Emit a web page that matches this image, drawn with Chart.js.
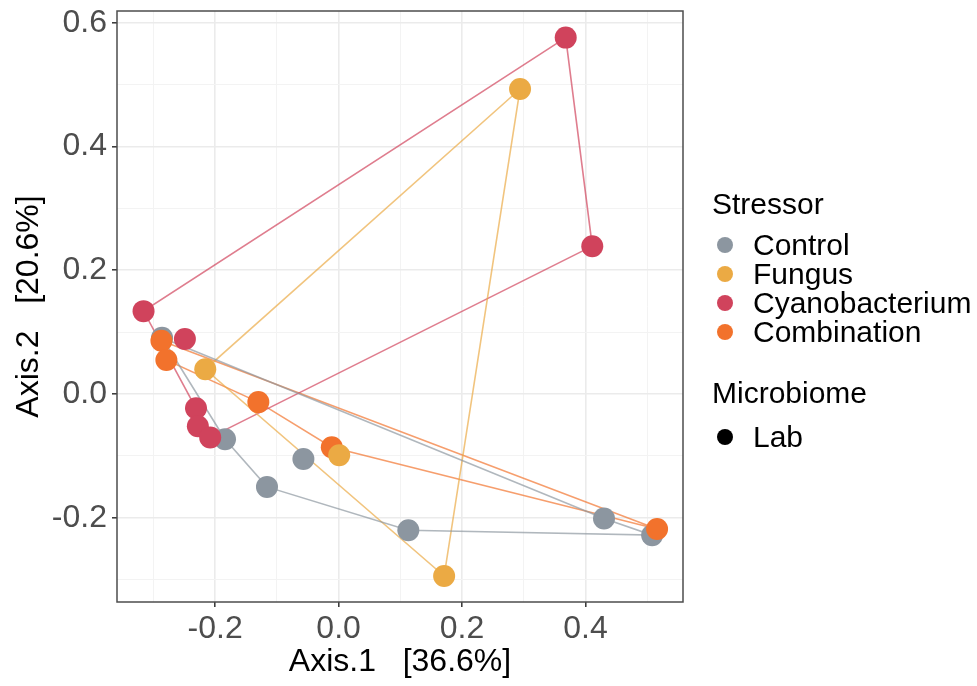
<!DOCTYPE html>
<html>
<head>
<meta charset="utf-8">
<script src="https://cdn.jsdelivr.net/npm/chart.js@4.4.1/dist/chart.umd.min.js"></script>
<style>
  body { margin: 0; background: #fff; font-family: "Liberation Sans", Arial, sans-serif; }
  #wrap { position: relative; width: 977px; height: 686px; }
  .lg { position: absolute; transform: translateY(-50%); white-space: nowrap; color: #000; font-size: 30px; line-height: normal; }
  .dot { position: absolute; width: 16px; height: 16px; border-radius: 50%; transform: translate(-50%, -50%); }
</style>
</head>
<body>
<div id="wrap">
  <canvas id="chartPcoa"></canvas>
  <div id="legendBox"></div>
</div>
<script>
  // group names + colours
  const stressors = ["Control", "Fungus", "Cyanobacterium", "Combination"];
  const colors = ["#8C96A0", "#EBAA44", "#D0435C", "#F2722C"];

  // sample coordinates
  const controlX = [-0.286, -0.184, -0.116, -0.057, 0.113, 0.430, 0.508];
  const controlY = [0.091, -0.073, -0.150, -0.105, -0.220, -0.201, -0.228];
  const fungusX = [0.294, -0.216, 0.001, 0.171];
  const fungusY = [0.493, 0.040, -0.099, -0.294];
  const cyanoX = [0.368, 0.411, -0.316, -0.249, -0.231, -0.228, -0.208];
  const cyanoY = [0.576, 0.239, 0.134, 0.089, -0.023, -0.052, -0.070];
  const comboX = [-0.287, -0.279, -0.130, -0.011, 0.516];
  const comboY = [0.086, 0.055, -0.013, -0.086, -0.218];

  // polygon (hull) vertex order, as indexes into the arrays above
  const controlHull = [0, 1, 2, 4, 6, 5];
  const fungusHull = [0, 1, 3];
  const cyanoHull = [0, 1, 6, 5, 4, 2];
  const comboHull = [0, 1, 2, 3, 4];

  const xLabel = "Axis.1   [36.6%]";
  const yLabel = "Axis.2   [20.6%]";

  const groups = [
    { xs: controlX, ys: controlY, hull: controlHull },
    { xs: fungusX, ys: fungusY, hull: fungusHull },
    { xs: cyanoX, ys: cyanoY, hull: cyanoHull },
    { xs: comboX, ys: comboY, hull: comboHull }
  ];
  // which group ends up on top (lower = on top)
  const pointOrder = [3, 1, 0, 2];

  const toPts = (xs, ys) => xs.map((x, i) => ({ x: x, y: ys[i] }));
  const hullPts = (g) => {
    const p = g.hull.map(i => ({ x: g.xs[i], y: g.ys[i] }));
    p.push(p[0]);
    return p;
  };

  const datasets = [];
  groups.forEach((g, i) => {
    datasets.push({
      type: 'scatter', label: stressors[i], data: toPts(g.xs, g.ys), order: pointOrder[i],
      pointRadius: 11, pointHoverRadius: 11, pointBackgroundColor: colors[i], pointBorderWidth: 0
    });
    datasets.push({
      type: 'line', label: stressors[i] + " hull", data: hullPts(g), order: 10,
      borderColor: colors[i] + "B0", borderWidth: 1.6, pointRadius: 0, fill: false, tension: 0
    });
  });

  const isMajor = v => Math.round(v * 10) % 2 === 0;
  const gridOpts = {
    color: c => isMajor(c.tick.value) ? '#EBEBEB' : '#F3F3F3',
    lineWidth: c => isMajor(c.tick.value) ? 1.6 : 1,
    tickColor: c => isMajor(c.tick.value) ? '#333333' : 'rgba(0,0,0,0)',
    tickLength: 5,
    tickWidth: 1.5
  };
  const tickFont = { family: "Liberation Sans, Arial, sans-serif", size: 32 };
  const titleFont = { family: "Liberation Sans, Arial, sans-serif", size: 32 };

  const panelBorder = {
    id: 'panelBorder',
    afterDraw(chart) {
      const { ctx, chartArea: a } = chart;
      ctx.save();
      ctx.strokeStyle = '#4D4D4D';
      ctx.lineWidth = 1.5;
      ctx.strokeRect(a.left, a.top, a.right - a.left, a.bottom - a.top);
      ctx.restore();
    }
  };

  new Chart(document.getElementById('chartPcoa'), {
    type: 'scatter',
    data: { datasets: datasets },
    plugins: [panelBorder],
    options: {
      responsive: true,
      maintainAspectRatio: false,
      animation: false,
      layout: { padding: { top: 11, right: 294, left: 0, bottom: 0 } },
      plugins: { legend: { display: false }, tooltip: { enabled: false } },
      scales: {
        x: {
          type: 'linear', min: -0.359, max: 0.558,
          grid: gridOpts, border: { display: false },
          ticks: { stepSize: 0.1, includeBounds: false, color: '#4D4D4D', font: tickFont, padding: 3, maxRotation: 0,
            autoSkip: false, callback: v => isMajor(v) ? v.toFixed(1) : '' },
          title: { display: true, text: xLabel, color: '#000', font: titleFont, padding: { top: 0, bottom: 5 } },
          afterFit: s => { s.height = 84; s.paddingLeft = 0; s.paddingRight = 0; }
        },
        y: {
          type: 'linear', min: -0.336, max: 0.619,
          grid: gridOpts, border: { display: false },
          ticks: { stepSize: 0.1, includeBounds: false, color: '#4D4D4D', font: tickFont, padding: 5,
            autoSkip: false, callback: v => isMajor(v) ? v.toFixed(1) : '' },
          title: { display: true, text: yLabel, color: '#000', font: titleFont, padding: { top: 10, bottom: 0 } },
          afterFit: s => { s.width = 117; s.paddingTop = 0; s.paddingBottom = 0; }
        }
      }
    }
  });

  // legend on the right, html so it stays as text
  const box = document.getElementById('legendBox');
  const addText = (txt, left, top) => {
    const d = document.createElement('div');
    d.className = 'lg';
    d.style.left = left + 'px';
    d.style.top = top + 'px';
    d.textContent = txt;
    box.appendChild(d);
  };
  const addDot = (col, top) => {
    const d = document.createElement('div');
    d.className = 'dot';
    d.style.left = '725px';
    d.style.top = top + 'px';
    d.style.background = col;
    box.appendChild(d);
  };
  addText("Stressor", 712, 204);
  stressors.forEach((s, i) => {
    addDot(colors[i], 245 + i * 29);
    addText(s, 753, 245 + i * 29);
  });
  addText("Microbiome", 712, 393);
  addDot("#000000", 437);
  addText("Lab", 753, 437);
</script>
</body>
</html>
